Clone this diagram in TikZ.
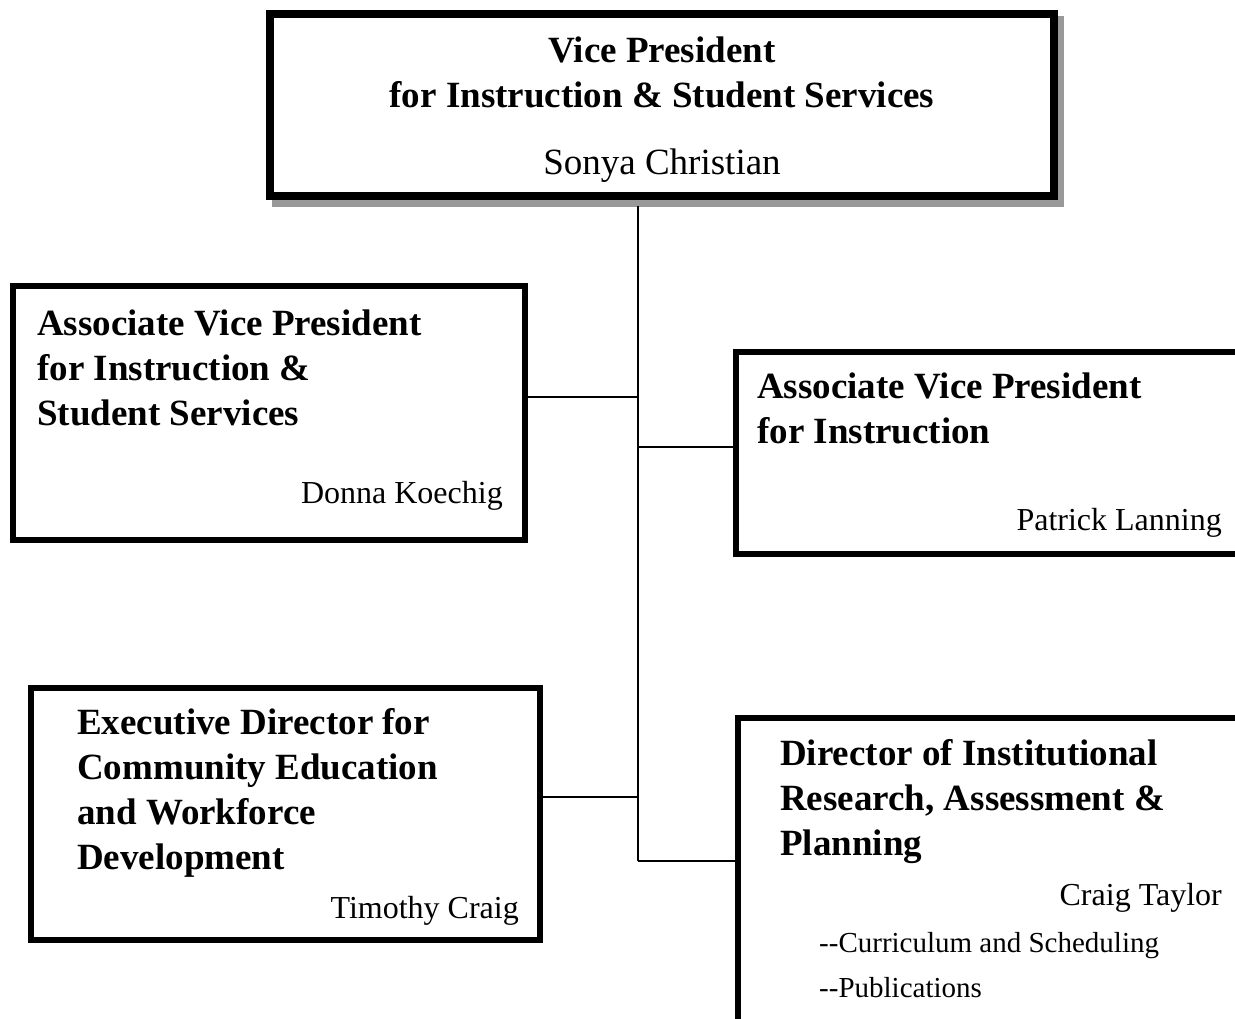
\documentclass[tikz,border=0pt]{standalone}
\usepackage{fontspec}
\setmainfont{Liberation Serif}
\usepackage{tikz}
\definecolor{shadowgray}{gray}{0.6}

\begin{document}
\begin{tikzpicture}[x=1pt,y=-1pt,
    orgbox/.style={draw=black,line width=6pt,fill=white,rectangle,inner sep=0pt},
    title/.style={font=\bfseries\fontsize{37}{45}\selectfont,align=left,inner sep=0pt},
    person/.style={font=\fontsize{32}{38}\selectfont,inner sep=0pt},
    duty/.style={font=\fontsize{29}{35}\selectfont,inner sep=0pt,anchor=base west},
    branch/.style={line width=2pt}]
  \useasboundingbox (0,0) rectangle (1235,1019);
  \clip (0,0) rectangle (1235,1019);

  % top box and its shadow
  \fill[shadowgray] (272,16) rectangle (1064,207);
  \node[orgbox,line width=8pt,minimum width=784pt,minimum height=182pt] (vp) at (662,105.5) {};

  % the four boxes below
  \node[orgbox,minimum width=512pt,minimum height=254pt] (avpiss) at (269,413) {};
  \node[orgbox,minimum width=524pt,minimum height=202pt] (avpi) at (998,453) {};
  \node[orgbox,minimum width=509pt,minimum height=252pt] (edir) at (285.5,814) {};
  \node[orgbox,minimum width=522pt,minimum height=322pt] (dir) at (999,879) {};

  % spine and branches
  \coordinate (spinetop) at (637.5,206.5);
  \coordinate (j1) at (637.5,397);
  \coordinate (j2) at (637.5,447);
  \coordinate (j3) at (637.5,797);
  \coordinate (j4) at (637.5,861);
  \draw[branch] (spinetop) -- (j4);
  \draw[branch] (j1) -- (j1 -| avpiss.east);
  \draw[branch] (j2) -- (j2 -| avpi.west);
  \draw[branch] (j3) -- (j3 -| edir.east);
  \draw[branch] (j4) -- (j4 -| dir.west);

  % texts (base is the last line)
  \node[title,anchor=base,align=center] (vptitle) at (662,108) {Vice President\\for Instruction \& Student Services};
  \node[person,font=\fontsize{37}{45}\selectfont,anchor=base] (vpname) at (662,175) {Sonya Christian};

  \node[title,anchor=base west] (avpisstitle) at (37,425) {Associate Vice President\\for Instruction \&\\Student Services};
  \node[person,anchor=base east] (avpissname) at (503,503) {Donna Koechig};

  \node[title,anchor=base west] (avpititle) at (757,443) {Associate Vice President\\for Instruction};
  \node[person,anchor=base east] (avpiname) at (1222,530) {Patrick Lanning};

  \node[title,anchor=base west] (edirtitle) at (77,869) {Executive Director for\\Community Education\\and Workforce\\Development};
  \node[person,anchor=base east] (edirname) at (519,918) {Timothy Craig};

  \node[title,anchor=base west] (dirtitle) at (780,855) {Director of Institutional\\Research, Assessment \&\\Planning};
  \node[person,anchor=base east] (dirname) at (1222,905) {Craig Taylor};
  \node[duty] (dirduty1) at (819,952) {-{}-Curriculum and Scheduling};
  \node[duty] (dirduty2) at (819,997) {-{}-Publications};
\end{tikzpicture}
\end{document}
